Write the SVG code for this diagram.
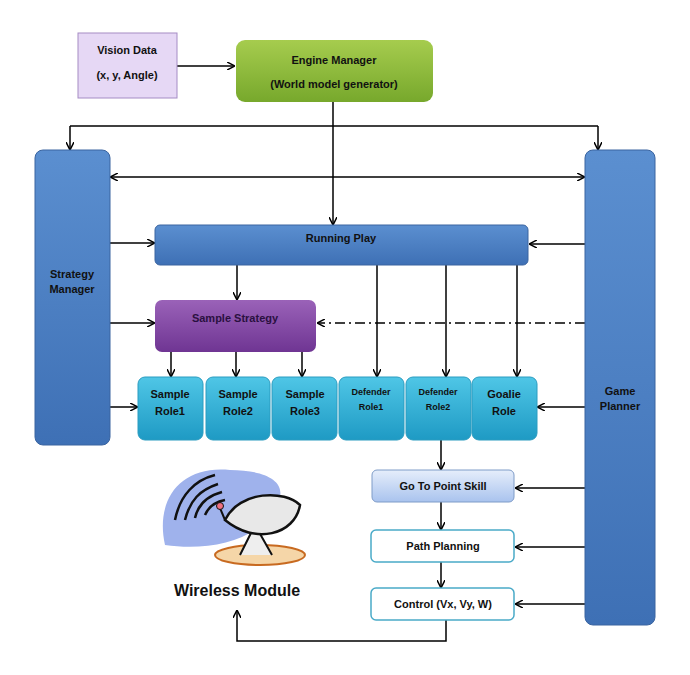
<svg xmlns="http://www.w3.org/2000/svg" width="690" height="675" viewBox="0 0 690 675">
<defs>
<marker id="ah" markerWidth="8" markerHeight="8" refX="7" refY="4" orient="auto" markerUnits="userSpaceOnUse"><path d="M0,0 L8,4 L0,8" fill="none" stroke="#000" stroke-width="1.5"/></marker>
<marker id="ahs" markerWidth="8" markerHeight="8" refX="1" refY="4" orient="auto" markerUnits="userSpaceOnUse"><path d="M8,0 L0,4 L8,8" fill="none" stroke="#000" stroke-width="1.5"/></marker>
<linearGradient id="gG" x1="0" y1="0" x2="0" y2="1"><stop offset="0" stop-color="#a6cc4e"/><stop offset="1" stop-color="#77a82c"/></linearGradient>
<linearGradient id="gB" x1="0" y1="0" x2="0" y2="1"><stop offset="0" stop-color="#5b8fd0"/><stop offset="1" stop-color="#3e70b5"/></linearGradient>
<linearGradient id="gP" x1="0" y1="0" x2="0" y2="1"><stop offset="0" stop-color="#9a62b8"/><stop offset="1" stop-color="#6f3593"/></linearGradient>
<linearGradient id="gC" x1="0" y1="0" x2="0" y2="1"><stop offset="0" stop-color="#4fc6e6"/><stop offset="1" stop-color="#1e9ac4"/></linearGradient>
<linearGradient id="gL" x1="0" y1="0" x2="0" y2="1"><stop offset="0" stop-color="#e6eefb"/><stop offset="1" stop-color="#a9c3ee"/></linearGradient>
</defs>
<style>
text{font-family:"Liberation Sans",Arial,sans-serif;font-weight:bold;text-anchor:middle;font-size:11px;fill:#111}
.c{stroke:#000;stroke-width:1.5;fill:none}
.a{marker-end:url(#ah)}
.role{fill:url(#gC);stroke:#2b9cc0}
.white{fill:#fff;stroke:#4aaac8;stroke-width:1.5}
</style>
<g id="connectors">
<path class="c a" d="M177,66 H234"/>
<path class="c a" d="M333,102 V224"/>
<path class="c" d="M70,126 H598"/>
<path class="c a" d="M70,126 V149"/>
<path class="c a" d="M598,126 V149"/>
<path class="c a" d="M111,177 H584" marker-start="url(#ahs)"/>
<path class="c a" d="M110,243 H154"/>
<path class="c a" d="M585,244 H530"/>
<path class="c a" d="M237,265 V299"/>
<path class="c a" d="M110,323 H154"/>
<path class="c a" d="M585,323 H318" stroke-dasharray="10,4,2,4"/>
<path class="c a" d="M171,352 V376"/>
<path class="c a" d="M236,352 V376"/>
<path class="c a" d="M302,352 V376"/>
<path class="c a" d="M377,265 V376"/>
<path class="c a" d="M446,265 V376"/>
<path class="c a" d="M517,265 V376"/>
<path class="c a" d="M110,407 H137"/>
<path class="c a" d="M585,407 H538"/>
<path class="c a" d="M441,440 V469"/>
<path class="c a" d="M441,502 V529"/>
<path class="c a" d="M441,562 V587"/>
<path class="c a" d="M585,488 H516"/>
<path class="c a" d="M585,547 H516"/>
<path class="c a" d="M585,604 H516"/>
<path class="c a" d="M446,620 V641 H237 V611"/>
</g>
<g id="vision"><rect x="78" y="33" width="99" height="65" fill="#e6d8f5" stroke="#a58cc4"/><text x="127" y="54">Vision Data</text><text x="127" y="79">(x, y,  Angle)</text></g>
<g id="engine"><rect x="236" y="40" width="197" height="62" rx="9" fill="url(#gG)"/><text x="334" y="64">Engine Manager</text><text x="334" y="88">(World model generator)</text></g>
<g id="strategy"><rect x="35" y="150" width="75" height="295" rx="8" fill="url(#gB)" stroke="#3a64a0"/><text x="72" y="278">Strategy</text><text x="72" y="293">Manager</text></g>
<g id="planner"><rect x="585" y="150" width="70" height="475" rx="8" fill="url(#gB)" stroke="#3a64a0"/><text x="620" y="395">Game</text><text x="620" y="410">Planner</text></g>
<g id="running"><rect x="155" y="225" width="373" height="40" rx="5" fill="url(#gB)" stroke="#3a64a0"/><text x="341" y="242">Running Play</text></g>
<g id="samplestrategy"><rect x="155" y="300" width="161" height="52" rx="7" fill="url(#gP)"/><text x="235" y="322" fill="#2a1040" style="fill:#2a1040">Sample Strategy</text></g>
<g id="role1"><rect class="role" x="138" y="377" width="65" height="63" rx="7"/><text x="170" y="398">Sample</text><text x="170" y="415">Role1</text></g>
<g id="role2"><rect class="role" x="206" y="377" width="64" height="63" rx="7"/><text x="238" y="398">Sample</text><text x="238" y="415">Role2</text></g>
<g id="role3"><rect class="role" x="272" y="377" width="65" height="63" rx="7"/><text x="305" y="398">Sample</text><text x="305" y="415">Role3</text></g>
<g id="def1"><rect class="role" x="339" y="377" width="65" height="63" rx="7"/><text x="371" y="395" style="font-size:9px">Defender</text><text x="371" y="410" style="font-size:9px">Role1</text></g>
<g id="def2"><rect class="role" x="406" y="377" width="65" height="63" rx="7"/><text x="438" y="395" style="font-size:9px">Defender</text><text x="438" y="410" style="font-size:9px">Role2</text></g>
<g id="goalie"><rect class="role" x="472" y="377" width="65" height="63" rx="7"/><text x="504" y="398">Goalie</text><text x="504" y="415">Role</text></g>
<g id="gotopoint"><rect x="372" y="470" width="142" height="32" rx="5" fill="url(#gL)" stroke="#7f9cc8"/><text x="443" y="490">Go To Point Skill</text></g>
<g id="path"><rect class="white" x="371" y="530" width="143" height="32" rx="5"/><text x="443" y="550">Path Planning</text></g>
<g id="control"><rect class="white" x="371" y="588" width="143" height="32" rx="5"/><text x="443" y="608">Control (Vx,  Vy, W)</text></g>
<g id="wireless">
<path d="M165,545 C155,500 180,465 230,470 C270,470 300,485 265,520 C245,545 200,550 165,545 Z" fill="#9fb2ec"/>
<g stroke="#111" stroke-width="2.5" fill="none">
<path d="M175,520 C180,495 195,480 215,475"/><path d="M185,520 C190,500 200,490 218,484"/><path d="M195,518 C198,505 207,496 222,492"/><path d="M205,515 C208,508 214,502 225,500"/>
</g>
<ellipse cx="260" cy="555" rx="45" ry="10" fill="#f5d6a8" stroke="#c86a20" stroke-width="2"/>
<path d="M240,555 L255,525 L272,555" fill="#eee" stroke="#111" stroke-width="2"/>
<path d="M225,520 C240,490 285,490 300,505 C295,535 255,545 225,520 Z" fill="#e8e8e8" stroke="#111" stroke-width="2.5"/>
<path d="M225,520 L220,508" stroke="#111" stroke-width="2"/>
<circle cx="220" cy="506" r="3.5" fill="#f07080" stroke="#111"/>
<text x="237" y="596" style="font-size:16px">Wireless Module</text>
</g>
</svg>
